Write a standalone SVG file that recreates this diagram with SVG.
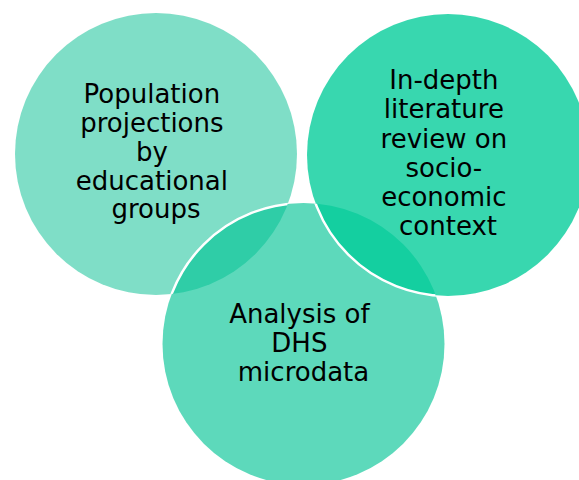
<svg xmlns="http://www.w3.org/2000/svg" width="579" height="480" viewBox="0 0 579 480">
  <style>
    .label { font-family: "DejaVu Sans", Verdana, sans-serif; font-size: 26px; fill: #000; text-anchor: middle; }
    .edge { fill: none; stroke: #ffffff; stroke-width: 2.5; }
  </style>
  <defs>
    <clipPath id="inLeft"><circle cx="156" cy="154" r="141"/></clipPath>
    <clipPath id="inBottom"><circle cx="303.5" cy="344" r="141"/></clipPath>
  </defs>

  <rect width="579" height="480" fill="#ffffff"/>

  <!-- Population projections (back) -->
  <g id="node-population">
    <circle cx="156" cy="154" r="141" fill="#00BE8F" fill-opacity="0.5"/>
    <text class="label">
      <tspan x="156" y="103.3">Population</tspan>
      <tspan x="156" y="132">projections</tspan>
      <tspan x="156" y="160.8">by</tspan>
      <tspan x="156" y="189.5">educational</tspan>
      <tspan x="156" y="218.3">groups</tspan>
    </text>
  </g>

  <!-- DHS analysis (middle layer) -->
  <g id="node-dhs">
    <circle cx="303.5" cy="344" r="141" fill="#01C394" fill-opacity="0.64"/>
    <circle class="edge" cx="303.5" cy="344" r="141" clip-path="url(#inLeft)"/>
    <text class="label">
      <tspan x="303.5" y="322.7">Analysis of</tspan>
      <tspan x="303.5" y="351.7">DHS</tspan>
      <tspan x="303.5" y="380.7">microdata</tspan>
    </text>
  </g>

  <!-- Literature review (front) -->
  <g id="node-literature">
    <circle cx="448" cy="155" r="141" fill="#00CC99" fill-opacity="0.78"/>
    <circle class="edge" cx="448" cy="155" r="141" clip-path="url(#inBottom)"/>
    <text class="label">
      <tspan x="448" y="89.3">In-depth</tspan>
      <tspan x="448" y="118.4">literature</tspan>
      <tspan x="448" y="147.5">review on</tspan>
      <tspan x="448" y="176.6">socio-</tspan>
      <tspan x="448" y="205.7">economic</tspan>
      <tspan x="448" y="234.8">context</tspan>
    </text>
  </g>
</svg>
